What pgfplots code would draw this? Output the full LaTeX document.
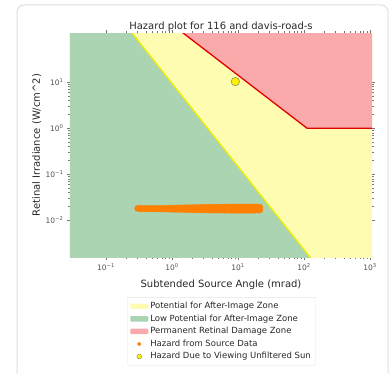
\documentclass[border=0pt]{standalone}
\usepackage{pgfplots}
\pgfplotsset{compat=1.18}
\usepackage{fontspec}
\setmainfont{DejaVu Sans}

\definecolor{zoneyellow}{RGB}{254,252,176}
\definecolor{zonegreen}{RGB}{170,212,178}
\definecolor{zonered}{RGB}{250,170,170}
\definecolor{lineyellow}{RGB}{238,238,0}
\definecolor{linered}{RGB}{228,0,0}
\definecolor{hazorange}{RGB}{255,128,0}
\definecolor{sunedge}{RGB}{140,150,90}
\definecolor{txt}{RGB}{40,40,40}

\begin{document}
\begin{tikzpicture}[x=1pt,y=1pt]
\useasboundingbox (0,0) rectangle (391,373);
\fill[white] (0,0) rectangle (391,373);
\draw[black!12, line width=1pt, rounded corners=7pt] (17,-20) rectangle (388,368);
\begin{axis}[
    at={(70pt,116pt)}, anchor=south west,
    scale only axis,
    width=302pt, height=224pt,
    xmode=log, ymode=log,
    xmin=0.0285, xmax=1070,
    ymin=0.0016, ymax=117,
    xtick={0.1,1,10,100,1000},
    xticklabels={10\textsuperscript{−1},10\textsuperscript{0},10\textsuperscript{1},10\textsuperscript{2},10\textsuperscript{3}},
    ytick={0.01,0.1,1,10},
    yticklabels={10\textsuperscript{−2},10\textsuperscript{−1},10\textsuperscript{0},10\textsuperscript{1}},
    axis line style={draw=none},
    tick align=outside,
    tick style={black!55, thin},
    major tick length=3pt,
    minor tick length=1.8pt,
    tick label style={font=\fontsize{7.5}{8}\selectfont, text=txt!80},
    title={Hazard plot for 116 and davis-road-s},
    title style={font=\fontsize{10}{11}\selectfont, text=txt, yshift=-8pt},
    xlabel={Subtended Source Angle (mrad)},
    ylabel={Retinal Irradiance (W/cm\^{}2)},
    label style={font=\fontsize{10}{11}\selectfont, text=txt},
    xlabel style={yshift=-2pt},
    ylabel style={yshift=-2.5pt},
    clip=true,
    legend cell align=left,
    legend style={
        at={(0.189,-0.179)}, anchor=north west,
        draw=black!10, rounded corners=1pt,
        font=\fontsize{8.5}{10}\selectfont, text=txt,
        row sep=0.6pt, inner sep=3pt,
    },
]

% zones
\addplot[fill=zoneyellow, draw=none,
    legend image code/.code={\fill[zoneyellow] (0pt,-2.7pt) rectangle (18pt,2.7pt);}]
    coordinates {(0.01,0.0001)(0.01,1000)(10000,1000)(10000,0.0001)} -- cycle;
\addlegendentry{Potential for After-Image Zone}

\addplot[fill=zonegreen, draw=none,
    legend image code/.code={\fill[zonegreen] (0pt,-2.7pt) rectangle (18pt,2.7pt);}]
    coordinates {(0.01,0.0001)(0.01,1000)(0.0757,1000)(159,0.001)(10000,0.0001)} -- cycle;
\addlegendentry{Low Potential for After-Image Zone}

\addplot[fill=zonered, draw=none,
    legend image code/.code={\fill[zonered] (0pt,-2.7pt) rectangle (18pt,2.7pt);}]
    coordinates {(0.21,1000)(111,1)(10000,1)(10000,1000)} -- cycle;
\addlegendentry{Permanent Retinal Damage Zone}

% zone boundaries
\addplot[lineyellow, line width=1.3pt, forget plot]
    coordinates {(0.0757,1000)(159,0.001)};
\addplot[linered, line width=1.3pt, forget plot]
    coordinates {(0.21,1000)(111,1)(10000,1)};

% source data
\addplot[only marks, mark=*, mark size=3.1pt,
    mark options={draw=hazorange, fill=hazorange},
    legend image code/.code={\fill[hazorange] (9pt,0pt) circle (1.8pt);}]
    coordinates {
    (0.302,0.0182)(0.320,0.0181)(0.339,0.0180)(0.359,0.0179)(0.380,0.0180)
    (0.403,0.0179)(0.427,0.0180)(0.452,0.0178)(0.479,0.0180)(0.507,0.0178)
    (0.537,0.0181)(0.569,0.0177)(0.603,0.0181)(0.639,0.0177)(0.676,0.0182)
    (0.716,0.0176)(0.759,0.0182)(0.804,0.0175)(0.851,0.0183)(0.902,0.0175)
    (0.955,0.0184)(1.012,0.0174)(1.072,0.0185)(1.135,0.0173)(1.202,0.0186)
    (1.274,0.0172)(1.349,0.0187)(1.429,0.0172)(1.514,0.0188)(1.603,0.0171)
    (1.698,0.0188)(1.799,0.0170)(1.906,0.0189)(2.018,0.0170)(2.138,0.0190)
    (2.265,0.0169)(2.399,0.0190)(2.541,0.0169)(2.692,0.0191)(2.851,0.0168)
    (3.020,0.0191)(3.199,0.0168)(3.389,0.0192)(3.590,0.0167)(3.802,0.0192)
    (4.028,0.0167)(4.266,0.0193)(4.519,0.0167)(4.787,0.0193)(5.071,0.0166)
    (5.372,0.0194)(5.690,0.0166)(6.026,0.0194)(6.383,0.0166)(6.762,0.0195)
    (7.163,0.0166)(7.587,0.0195)(8.037,0.0165)(8.513,0.0195)(9.017,0.0165)
    (9.551,0.0196)(10.12,0.0165)(10.72,0.0196)(11.35,0.0165)(12.02,0.0196)
    (12.74,0.0165)(13.49,0.0196)(14.29,0.0165)(15.14,0.0196)(16.03,0.0165)
    (16.98,0.0196)(17.99,0.0166)(19.05,0.0195)(20.18,0.0167)(21.38,0.0193)
    (21.38,0.0168)(20.18,0.0181)(12.02,0.0180)(6.026,0.0180)(3.020,0.0180)
    };
\addlegendentry{Hazard from Source Data}

% unfiltered sun
\addplot[only marks, mark=*, mark size=4.2pt,
    mark options={draw=sunedge, fill=yellow, line width=0.6pt},
    legend image code/.code={\filldraw[fill=yellow, draw=sunedge, line width=0.5pt] (9pt,0pt) circle (2.4pt);}]
    coordinates {(9.1,10.3)};
\addlegendentry{Hazard Due to Viewing Unfiltered Sun}

\end{axis}
\end{tikzpicture}
\end{document}
